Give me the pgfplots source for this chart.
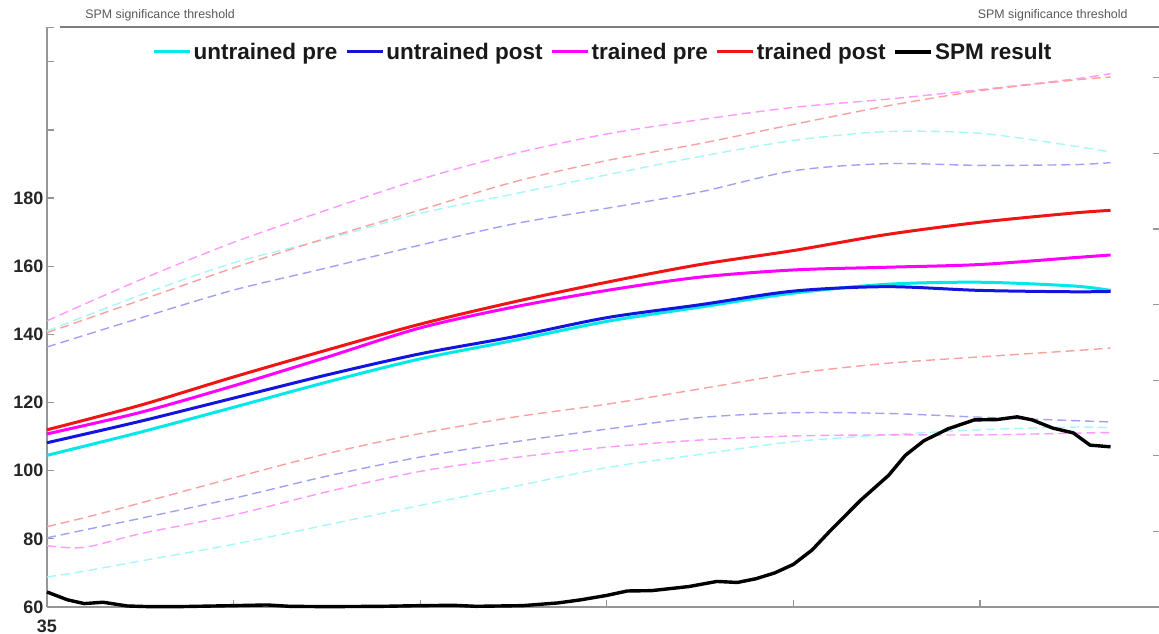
\documentclass[border=0pt]{standalone}
\usepackage{fontspec}
\setmainfont{Liberation Sans}
\usepackage{pgfplots}
\usepackage{pgfplotstable}
\pgfplotsset{compat=1.18}

\definecolor{ucyan}{RGB}{0,232,232}
\definecolor{ublue}{RGB}{20,20,225}
\definecolor{tmag}{RGB}{255,0,255}
\definecolor{tred}{RGB}{240,20,20}
\definecolor{axgray}{RGB}{150,150,150}
\definecolor{thrgray}{RGB}{125,125,125}

% means: x, untrained pre, untrained post, trained pre, trained post
\pgfplotstableread{
x    upre  upost tpre  tpost
35   104.5 108.2 110.8 112.0
40   111.3 114.5 117.1 119.2
45   118.6 121.3 124.9 127.5
50   126.0 128.1 133.3 135.4
55   132.8 134.3 141.9 143.0
60   138.2 139.3 148.0 149.5
65   143.8 144.9 152.9 155.3
70   148.0 148.7 156.8 160.5
75   152.1 152.7 158.9 164.6
80   154.7 154.0 159.7 169.3
85   155.3 152.9 160.5 172.9
90   154.2 152.5 162.5 175.6
92   152.9 152.6 163.3 176.4
}\meantab

% upper bounds
\pgfplotstableread{
x    upre  upost tpre  tpost
35   141.0 136.3 144.0 140.5
40   151.5 144.8 156.0 150.0
45   161.0 153.0 167.0 159.5
50   168.0 159.5 176.5 168.3
55   175.5 166.2 185.5 176.5
60   181.2 172.4 193.0 184.7
65   186.8 177.0 198.8 191.0
70   192.2 181.8 203.0 196.0
75   196.9 188.0 206.6 201.6
80   199.5 190.1 209.0 207.0
85   199.0 189.6 211.8 211.5
90   195.3 189.8 214.9 214.6
92   193.5 190.4 216.5 215.5
}\uptab

% lower bounds
\pgfplotstableread{
x    upre  upost tpre  tpost
35   68.8  80.3  78.0  83.6
37   70.5  82.6  77.5  86.2
40   73.5  86.0  81.5  90.5
45   78.4  91.9  87.0  97.9
50   84.1  98.4  93.8  105.0
55   89.8  104.0 99.8  110.9
60   95.3  108.4 103.8 115.7
65   100.9 112.2 106.9 119.5
70   104.8 115.6 109.0 124.0
75   108.5 117.0 110.2 128.5
80   110.5 116.8 110.5 131.5
85   112.0 115.7 110.5 133.4
90   112.8 114.7 111.0 135.2
92   112.6 114.3 111.2 136.0
}\lowtab

% SPM result
\pgfplotstableread{
x    y
35   64.4
36.1 62.1
37.0 61.0
38.0 61.4
39.3 60.3
40.5 60.1
42   60.1
45   60.4
46.8 60.6
48   60.2
50   60.1
53   60.2
55   60.4
56.8 60.5
58   60.2
60.5 60.4
62.4 61.2
63.6 62.1
65   63.4
66.1 64.7
67.4 64.8
69.4 66.0
70.9 67.5
72.0 67.2
73.0 68.3
74.0 70.0
75.0 72.5
76.0 76.7
77.0 82.5
78.6 91.3
80.1 98.6
81.0 104.5
82.0 108.8
83.3 112.3
84.7 114.9
85.9 115.0
87.0 115.8
87.8 114.9
88.9 112.5
90.0 111.1
90.9 107.5
92.0 107.0
}\spmtab

\begin{document}
\begin{tikzpicture}
\useasboundingbox (-47pt,-27pt) rectangle (1112pt,607pt);
\begin{axis}[
  name=main,
  scale only axis, width=1112pt, height=580pt,
  xmin=35, xmax=94.6, ymin=60, ymax=230.2,
  axis x line*=bottom, axis y line*=left,
  axis line style={draw=axgray, line width=1.5pt, -},
  tick align=inside,
  major tick length=7pt,
  tick style={draw=axgray, line width=1.2pt},
  xtick={35,45,55,65,75,85}, xticklabels={35,{},{},{},{},{}},
  ytick={60,80,100,120,140,160,180,200,220,230},
  yticklabels={60,80,100,120,140,160,180,{},{},{}},
  ticklabel style={font=\fontsize{18}{20}\selectfont\bfseries, text=black!85},
  xticklabel style={yshift=-9pt},
  clip=false,
  legend columns=5,
  legend style={draw=none, fill=none, at={(0.5,0.957)}, anchor=center,
    font=\fontsize{22.5}{25}\selectfont\bfseries, text=black!90,
    nodes={inner sep=2pt},
    /tikz/every even column/.append style={column sep=6pt}},
  legend image code/.code={\draw[#1] (0pt,0pt) -- (36pt,0pt);},
  dsh/.style={line width=1.4pt, dash pattern=on 9pt off 5pt, forget plot},
  sol/.style={line width=3pt},
]
% threshold line
\addplot[thrgray, line width=1.5pt, forget plot] coordinates {(35.7,230.2) (94.6,230.2)};
\node[font=\fontsize{12.4}{14}\selectfont, text=black!65, anchor=base] at (axis cs:41.06,230.2) [yshift=8pt] {SPM significance threshold};
\node[font=\fontsize{12.4}{14}\selectfont, text=black!65, anchor=base] at (axis cs:88.9,230.2) [yshift=8pt] {SPM significance threshold};

% bounds
\addplot[dsh, smooth, ucyan!35] table[x=x,y=upre] {\uptab};
\addplot[dsh, smooth, ublue!40] table[x=x,y=upost] {\uptab};
\addplot[dsh, smooth, tmag!40] table[x=x,y=tpre] {\uptab};
\addplot[dsh, smooth, tred!40] table[x=x,y=tpost] {\uptab};
\addplot[dsh, smooth, ucyan!35] table[x=x,y=upre] {\lowtab};
\addplot[dsh, smooth, ublue!40] table[x=x,y=upost] {\lowtab};
\addplot[dsh, smooth, tmag!40] table[x=x,y=tpre] {\lowtab};
\addplot[dsh, smooth, tred!40] table[x=x,y=tpost] {\lowtab};

% means
\addplot[sol, smooth, ucyan] table[x=x,y=upre] {\meantab};
\addlegendentry{untrained pre}
\addplot[sol, smooth, ublue] table[x=x,y=upost] {\meantab};
\addlegendentry{untrained post}
\addplot[sol, smooth, tmag] table[x=x,y=tpre] {\meantab};
\addlegendentry{trained pre}
\addplot[sol, smooth, tred] table[x=x,y=tpost] {\meantab};
\addlegendentry{trained post}
\addplot[black, line width=3.4pt, line join=round] table[x=x,y=y] {\spmtab};
\addlegendentry{SPM result}
\end{axis}

\begin{axis}[
  scale only axis, width=1112pt, height=580pt,
  xmin=35, xmax=94.6, ymin=0, ymax=7.672,
  axis x line=none, axis y line*=right,
  y axis line style={draw=none},
  tick align=inside, major tick length=6pt,
  tick style={draw=axgray, line width=1.2pt},
  ytick={1,2,3,4,5,6,7}, yticklabels={},
]
\end{axis}
\end{tikzpicture}
\end{document}
